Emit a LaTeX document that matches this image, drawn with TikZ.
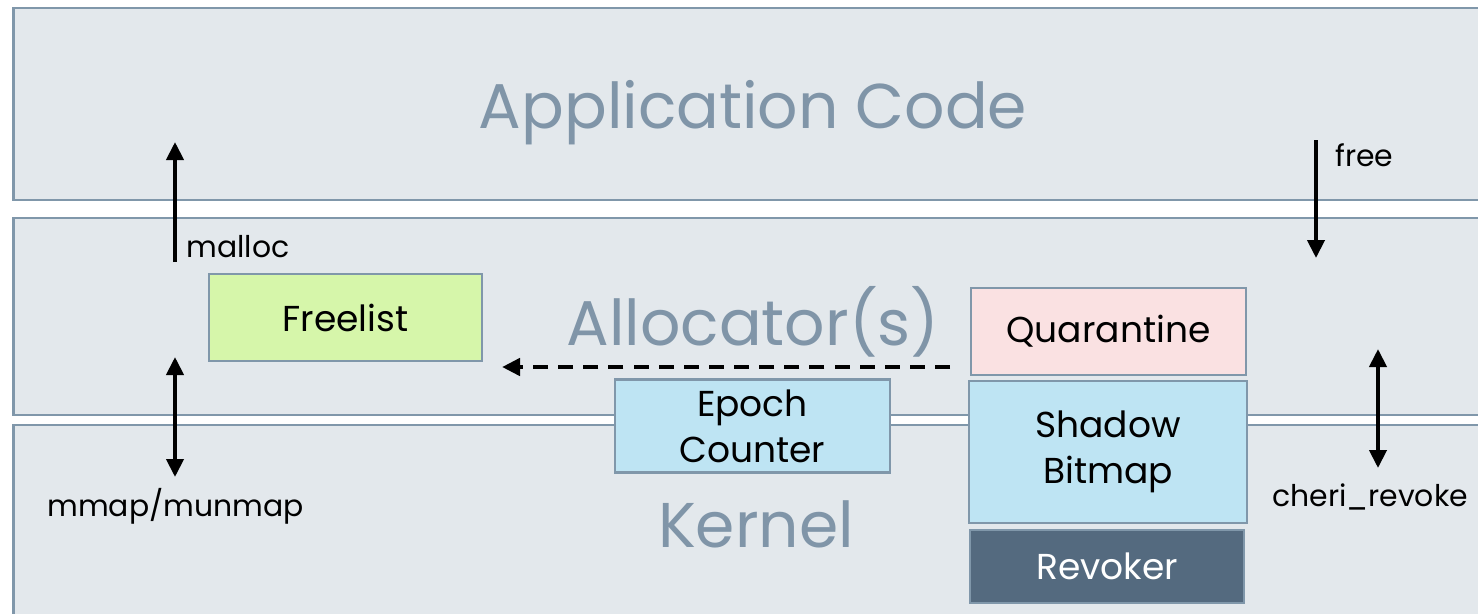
\documentclass[tikz,border=0pt]{standalone}
\usepackage{fontspec}
\setmainfont{Poppins}
\usetikzlibrary{positioning,arrows.meta}
\definecolor{capafondo}{RGB}{227,232,236}
\definecolor{borde}{RGB}{128,151,170}
\definecolor{titulo}{RGB}{128,149,168}
\definecolor{verde}{RGB}{214,246,170}
\definecolor{rosa}{RGB}{250,225,226}
\definecolor{celeste}{RGB}{190,228,243}
\definecolor{oscuro}{RGB}{84,106,127}

\begin{document}
\begin{tikzpicture}[
  x=0.02cm, y=-0.02cm,
  layer/.style={rectangle, draw=borde, line width=1.6pt, fill=capafondo,
    minimum width=29.6cm, text=titulo, font=\fontsize{36}{40}\selectfont},
  block/.style={rectangle, draw=borde, line width=1.6pt, align=center,
    minimum width=5.5cm, text=black, font=\fontsize{20.5}{26}\selectfont},
  flecha/.style={-{Triangle[length=3.6mm, width=3.4mm]}, line width=2.3pt},
  doble/.style={{Triangle[length=3.6mm, width=3.4mm]}-{Triangle[length=3.6mm, width=3.4mm]}, line width=2.3pt},
  etiqueta/.style={font=\fontsize{17}{20}\selectfont, text=black, inner sep=0pt}
]
\useasboundingbox (0,0) rectangle (1478,613);
% capas
\node[layer, minimum height=3.84cm, text depth=0pt] (app) at (753,104) {Application Code};
\node[layer, minimum height=3.94cm] (alloc) at (753,316.5) {};
\node[layer, minimum height=3.8cm] (kern) at (753,520) {};
\node[text=titulo, font=\fontsize{36}{40}\selectfont] (talloc) at (753,322) {Allocator(s)};
\node[text=titulo, font=\fontsize{36}{40}\selectfont] (tkern) at (756,524) {Kernel};
% bloques
\node[block, fill=verde, minimum width=5.46cm, minimum height=1.74cm] (freelist) at (345.5,317.5) {Freelist};
\node[block, fill=celeste, minimum height=1.86cm] (epoch) at (752.5,426) {Epoch\\Counter};
\node[block, fill=rosa, minimum height=1.74cm] (quar) at (1108.5,331.5) {Quarantine};
\node[block, fill=celeste, minimum width=5.56cm, minimum height=2.84cm] (shadow) at (1108,452) {Shadow\\Bitmap};
\node[block, fill=oscuro, text=white, minimum width=5.48cm, minimum height=1.46cm] (revoker) at (1107,566.5) {Revoker};
% extremos de las flechas
\coordinate (m1) at (175,262);
\coordinate (m2) at (175,142);
\coordinate (mm1) at (175,357);
\coordinate (mm2) at (175,477);
\coordinate (f1) at (1316,140);
\coordinate (f2) at (1316,258);
\coordinate (c1) at (1378,349);
\coordinate (c2) at (1378,468);
\coordinate (d1) at (950,367);
\coordinate (d2) at (502,367);
\draw[flecha] (m1) -- (m2);
\draw[doble] (mm1) -- (mm2);
\draw[flecha] (f1) -- (f2);
\draw[doble] (c1) -- (c2);
\draw[flecha, line width=2.8pt, dash pattern=on 8.5pt off 5.8pt] (d1) -- (d2);
% etiquetas
\node[etiqueta, anchor=west] (lmalloc) at (186,247) {malloc};
\node[etiqueta, anchor=west] (lmmap) at (47,506) {mmap/munmap};
\node[etiqueta, anchor=west] (lfree) at (1335,155) {free};
\node[etiqueta, anchor=west] (lcheri) at (1272,497) {cheri\_revoke};
\end{tikzpicture}
\end{document}
